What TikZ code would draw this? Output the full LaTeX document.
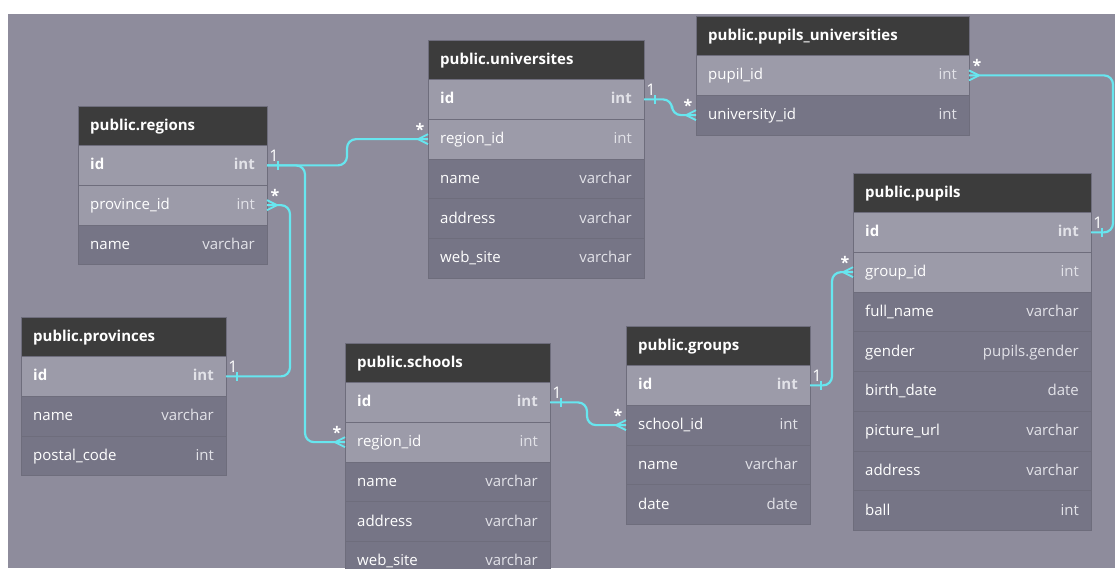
\documentclass[tikz,border=0pt]{standalone}
\usepackage{fontspec}
\setmainfont{Open Sans}
\definecolor{bgc}{HTML}{8E8C9C}
\definecolor{headc}{HTML}{3C3C3C}
\definecolor{keyc}{HTML}{9C9BA9}
\definecolor{colc}{HTML}{767586}
\definecolor{edgec}{HTML}{6E6D7C}
\definecolor{linkc}{HTML}{67E6EF}
\definecolor{typc}{HTML}{E2E2E8}
\tikzset{
  head/.style={draw=edgec,fill=headc,anchor=north west,minimum width=#1,minimum height=39.5,inner sep=0,outer sep=0},
  row/.style={draw=edgec,line width=.6,anchor=north west,minimum width=#1,minimum height=39.75,inner sep=0,outer sep=0},
  pk/.style={fill=keyc,font=\bfseries},
  fk/.style={fill=keyc},
  col/.style={fill=colc},
  title/.style={anchor=base west,xshift=12,yshift=-4.5,inner sep=0,text=white,font=\bfseries},
  fld/.style={anchor=base west,xshift=12,yshift=-4.5,inner sep=0,fill=none,text=white},
  typ/.style={anchor=base east,xshift=-12,yshift=-4.5,inner sep=0,fill=none,text=typc},
  link/.style={draw=linkc,line width=2.2,rounded corners=9},
  card/.style={text=white,inner sep=0,font=\fontsize{16}{18}\selectfont},
  one/.pic={\draw[link] (11,-4.5) -- (11,4.5);
    \node[card] at (7,-9.5) {1};},
  many/.pic={\draw[link,line width=1.8] (-10,0) -- (0,-5) (-10,0) -- (0,5);
    \node[card,font=\fontsize{16}{18}\selectfont\bfseries] at (-8,-10) {*};}
}
\begin{document}
\fontsize{15}{18}\selectfont
\begin{tikzpicture}[x=1pt,y=-1pt]
\useasboundingbox (0,0) rectangle (1115,568);
\fill[white] (0,0) rectangle (1115,568);
\fill[bgc] (8,14) rectangle (1115,568);

% regions
\node[head=189] (regions-0) at (78,106) {}
    node[title] at (regions-0.west) {public.regions};
\foreach \f/\t/\s[count=\i,evaluate=\i as\p using int(\i-1)] in {
 id/int/pk,
 province\_id/int/fk,
 name/varchar/col}
\node[row=189,\s] at(regions-\p.south west)(regions-\i){}
    node[\s,fld] at(regions-\i.west){\f}
    node[\s,typ] at(regions-\i.east){\t};

% universites
\node[head=216] (univ-0) at (428,40) {}
    node[title] at (univ-0.west) {public.universites};
\foreach \f/\t/\s[count=\i,evaluate=\i as\p using int(\i-1)] in {
 id/int/pk,
 region\_id/int/fk,
 name/varchar/col,
 address/varchar/col,
 web\_site/varchar/col}
\node[row=216,\s] at(univ-\p.south west)(univ-\i){}
    node[\s,fld] at(univ-\i.west){\f}
    node[\s,typ] at(univ-\i.east){\t};

% pupils_universities
\node[head=273] (pu-0) at (696,16) {}
    node[title] at (pu-0.west) {public.pupils\_universities};
\foreach \f/\t/\s[count=\i,evaluate=\i as\p using int(\i-1)] in {
 pupil\_id/int/fk,
 university\_id/int/col}
\node[row=273,\s] at(pu-\p.south west)(pu-\i){}
    node[\s,fld] at(pu-\i.west){\f}
    node[\s,typ] at(pu-\i.east){\t};

% pupils
\node[head=238] (pupils-0) at (853,173) {}
    node[title] at (pupils-0.west) {public.pupils};
\foreach \f/\t/\s[count=\i,evaluate=\i as\p using int(\i-1)] in {
 id/int/pk,
 group\_id/int/fk,
 full\_name/varchar/col,
 gender/pupils.gender/col,
 birth\_date/date/col,
 picture\_url/varchar/col,
 address/varchar/col,
 ball/int/col}
\node[row=238,\s] at(pupils-\p.south west)(pupils-\i){}
    node[\s,fld] at(pupils-\i.west){\f}
    node[\s,typ] at(pupils-\i.east){\t};

% provinces
\node[head=205] (prov-0) at (21,317) {}
    node[title] at (prov-0.west) {public.provinces};
\foreach \f/\t/\s[count=\i,evaluate=\i as\p using int(\i-1)] in {
 id/int/pk,
 name/varchar/col,
 postal\_code/int/col}
\node[row=205,\s] at(prov-\p.south west)(prov-\i){}
    node[\s,fld] at(prov-\i.west){\f}
    node[\s,typ] at(prov-\i.east){\t};

% schools
\node[head=205] (schools-0) at (345,343) {}
    node[title] at (schools-0.west) {public.schools};
\foreach \f/\t/\s[count=\i,evaluate=\i as\p using int(\i-1)] in {
 id/int/pk,
 region\_id/int/fk,
 name/varchar/col,
 address/varchar/col,
 web\_site/varchar/col}
\node[row=205,\s] at(schools-\p.south west)(schools-\i){}
    node[\s,fld] at(schools-\i.west){\f}
    node[\s,typ] at(schools-\i.east){\t};

% groups
\node[head=184] (groups-0) at (626,326) {}
    node[title] at (groups-0.west) {public.groups};
\foreach \f/\t/\s[count=\i,evaluate=\i as\p using int(\i-1)] in {
 id/int/pk,
 school\_id/int/col,
 name/varchar/col,
 date/date/col}
\node[row=184,\s] at(groups-\p.south west)(groups-\i){}
    node[\s,fld] at(groups-\i.west){\f}
    node[\s,typ] at(groups-\i.east){\t};

% links
\draw[link] (regions-1.east) -- ++(80,0) |- (univ-2.west);
\draw[link] (regions-1.east) -- ++(38,0) |- (schools-2.west);
\draw[link] (prov-1.east) -- ++(64,0) |- (regions-2.east);
\draw[link] (univ-1.east) -- ++(28,0) |- (pu-2.west);
\draw[link] (pupils-1.east) -- ++(22,0) |- (pu-1.east);
\draw[link] (groups-1.east) -- ++(22,0) |- (pupils-2.west);
\draw[link] (schools-1.east) -- ++(37,0) |- (groups-2.west);
\pic at (regions-1.east) {one};
\pic at (prov-1.east) {one};
\pic at (univ-1.east) {one};
\pic at (pupils-1.east) {one};
\pic at (groups-1.east) {one};
\pic at (schools-1.east) {one};
\pic at (univ-2.west) {many};
\pic at (schools-2.west) {many};
\pic[xscale=-1] at (regions-2.east) {many};
\pic at (pu-2.west) {many};
\pic[xscale=-1] at (pu-1.east) {many};
\pic at (pupils-2.west) {many};
\pic at (groups-2.west) {many};
\end{tikzpicture}
\end{document}
